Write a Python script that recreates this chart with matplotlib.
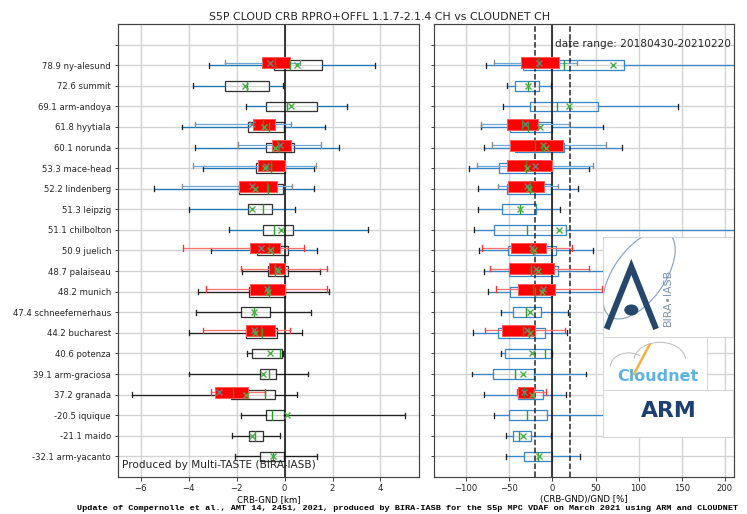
import matplotlib
matplotlib.use('Agg')
import matplotlib.pyplot as plt
from matplotlib.patches import Ellipse, Circle, Arc
import numpy as np

stations = ['78.9 ny-alesund', '72.6 summit', '69.1 arm-andoya', '61.8 hyytiala',
            '60.1 norunda', '53.3 mace-head', '52.2 lindenberg', '51.3 leipzig',
            '51.1 chilbolton', '50.9 juelich', '48.7 palaiseau', '48.2 munich',
            '47.4 schneefernerhaus', '44.2 bucharest', '40.6 potenza',
            '39.1 arm-graciosa', '37.2 granada', '-20.5 iquique', '-21.1 maido',
            '-32.1 arm-yacanto']

# CRB-GND [km], all collocations
km_lo   = [-3.14, -3.82, -1.60, -4.27, -3.75, -3.42, -5.43, -4.00, -2.34, -3.07,
           -1.77, -3.61, -3.70, -3.97, -1.58, -3.97, -6.37, -1.81, -2.19, -2.08]
km_q1   = [-0.45, -2.50, -0.78, -1.51, -0.78, -1.19, -1.92, -1.51, -0.89, -1.16,
           -0.71, -1.48, -1.83, -1.62, -1.37, -1.03, -2.23, -0.78, -1.48, -1.03]
km_med  = [0.22, -1.55, 0.10, -0.67, -0.25, -0.56, -0.71, -0.89, -0.45, -0.50,
           -0.39, -0.67, -1.27, -0.96, -0.20, -0.63, -0.81, -0.52, -1.23, -0.47]
km_q3   = [1.58, -0.66, 1.34, -0.01, 0.38, 0.00, -0.06, -0.53, 0.35, 0.14,
           0.14, 0.01, -0.60, -0.32, -0.11, -0.35, -0.38, -0.04, -0.89, -0.01]
km_hi   = [3.77, -0.08, 2.61, 1.69, 2.27, 1.21, 1.21, 0.45, 3.50, 1.35,
           1.48, 1.84, 1.10, 0.71, -0.05, 0.96, 0.53, 5.03, -0.20, 1.34]
km_mean = [0.50, -1.65, 0.28, -0.85, -0.39, -0.80, -1.23, -1.37, -0.17, -0.60,
           -0.28, -0.70, -1.27, -1.23, -0.60, -0.92, -1.63, 0.11, -1.37, -0.50]

# CRB-GND [km], subset (red boxes); nan = no subset
nan = np.nan
kms_lo   = [-2.50, nan, nan, -3.75, -1.95, -3.82, -4.27, nan, nan, -4.23,
            -1.81, -3.29, nan, -3.39, nan, nan, -3.07, nan, nan, nan]
kms_q1   = [-0.93, nan, nan, -1.30, -0.54, -1.12, -1.92, nan, nan, -1.44,
            -0.67, -1.46, nan, -1.62, nan, nan, -2.90, nan, nan, nan]
kms_med  = [-0.38, nan, nan, -0.91, -0.28, -0.55, -0.75, nan, nan, -0.67,
            -0.40, -0.70, nan, -1.00, nan, nan, -2.16, nan, nan, nan]
kms_q3   = [0.21, nan, nan, -0.40, 0.25, 0.00, -0.32, nan, nan, -0.20,
            0.03, 0.01, nan, -0.40, nan, nan, -1.53, nan, nan, nan]
kms_hi   = [0.66, nan, nan, 0.27, 1.51, 1.31, 0.31, nan, nan, 0.79,
            1.77, 1.77, nan, 0.22, nan, nan, -0.81, nan, nan, nan]
kms_mean = [-0.61, nan, nan, -1.35, -0.20, -0.78, -1.37, nan, nan, -0.99,
            -0.30, -0.72, nan, -1.27, nan, nan, -2.72, nan, nan, nan]

# (CRB-GND)/GND [%], all collocations
pc_lo   = [-76.9, -52.5, -56.8, -82.3, -78.8, -97.0, -86.6, -85.8, -90.8, -84.6,
           -78.8, -75.0, -59.5, -91.6, -59.5, -93.5, -78.8, -67.6, -53.7, -53.7]
pc_q1   = [-33.6, -42.9, -25.5, -49.5, -42.9, -61.8, -52.9, -58.7, -67.2, -51.8,
           -50.6, -48.7, -45.2, -63.0, -54.9, -69.2, -39.4, -50.6, -46.0, -32.5]
pc_med  = [13.5, -28.6, 5.0, -28.6, -11.6, -30.9, -25.5, -37.9, -29.8, -22.4,
           -24.7, -20.1, -30.9, -27.0, -8.9, -42.9, -22.4, -29.8, -38.3, -17.0]
pc_q3   = [83.5, -15.1, 53.3, -0.4, 13.1, -0.4, -1.2, -18.5, 15.8, 4.6,
           6.2, 0.0, -12.8, -8.5, -1.2, -21.6, -10.4, -6.2, -24.3, -0.4]
pc_hi   = [240.0, -1.2, 145.7, 59.1, 81.1, 42.1, 29.8, 9.3, 230.0, 46.8,
           75.0, 70.0, 17.8, 16.6, -0.5, 39.0, 15.8, 160.0, -1.9, 32.5]
pc_mean = [70.0, -27.8, 19.7, -14.3, -7.7, -29.0, -27.0, -37.9, 7.3, -21.5,
           -16.6, -12.0, -25.9, -26.3, -24.0, -34.4, -23.6, 70.0, -34.0, -15.8]

# (CRB-GND)/GND [%], subset (red boxes)
pcs_lo   = [-68.0, nan, nan, -82.7, -69.6, -86.9, -62.6, nan, nan, -81.9,
            -71.9, -64.9, nan, -78.4, nan, nan, -40.5, nan, nan, nan]
pcs_q1   = [-35.9, nan, nan, -52.2, -49.1, -52.9, -51.4, nan, nan, -47.5,
            -50.6, -40.2, nan, -58.3, nan, nan, -39.8, nan, nan, nan]
pcs_med  = [-16.2, nan, nan, -34.8, -19.7, -30.9, -26.5, nan, nan, -25.1,
            -24.7, -22.4, nan, -34.0, nan, nan, -33.5, nan, nan, nan]
pcs_q3   = [8.1, nan, nan, -17.0, 12.8, -0.4, -10.0, nan, nan, -7.7,
            1.5, 2.7, nan, -20.1, nan, nan, -21.3, nan, nan, nan]
pcs_hi   = [28.2, nan, nan, 19.3, 61.8, 46.8, 6.6, nan, nan, 22.4,
            42.9, 58.0, nan, 14.7, nan, nan, -7.3, nan, nan, nan]
pcs_mean = [-15.5, nan, nan, -32.0, -11.2, -20.5, -29.0, nan, nan, -24.0,
            -18.9, -11.2, nan, -29.8, nan, nan, -32.8, nan, nan, nan]

# stations whose subset whiskers are drawn red
red_whisk = ['50.9 juelich', '48.7 palaiseau', '48.2 munich', '44.2 bucharest', '37.2 granada']
n_blue_left = 10   # first stations with blue whiskers in left panel

TXT = '#262626'
plt.rcParams['font.family'] = 'DejaVu Sans'
plt.rcParams['text.color'] = TXT
plt.rcParams['xtick.color'] = TXT
plt.rcParams['ytick.color'] = TXT

fig = plt.figure(figsize=(747/72., 514/72.), dpi=72, facecolor='w')
ax1 = fig.add_axes([0.158, 0.072, 0.4033, 0.8813])
ax2 = fig.add_axes([0.5814, 0.072, 0.4016, 0.8813])


def stat(lo, q1, med, q3, hi, mean):
    return dict(whislo=lo, q1=q1, med=med, q3=q3, whishi=hi, mean=mean, fliers=[])


def draw(ax, main, sub, boxcol, left):
    for i in range(len(stations)):
        pos = i + 1
        if left:
            wcol = 'C0' if i < n_blue_left else '#222222'
        else:
            wcol = '#3a87c8'
        ax.bxp([stat(*[a[i] for a in main])], positions=[pos], widths=0.47,
               orientation='horizontal', showfliers=False, showmeans=True,
               patch_artist=True, manage_ticks=False,
               boxprops=dict(facecolor='none', edgecolor=boxcol, linewidth=1.3, zorder=2),
               whiskerprops=dict(color=wcol, linewidth=1.3, zorder=2),
               capprops=dict(color='#222222', linewidth=1.3, zorder=2),
               medianprops=dict(color='#2ca02c', linewidth=1.4, zorder=5),
               meanprops=dict(marker='x', markeredgecolor='#4caf4c', markersize=6,
                              markeredgewidth=1.4, zorder=5))
        if np.isnan(sub[0][i]):
            continue
        if stations[i] in red_whisk:
            swcol, sccol = '#ff7070', '#ff3030'
        else:
            swcol, sccol = '#6fa8d6', '#8a8a8a'
        ax.bxp([stat(*[a[i] for a in sub])], positions=[pos - 0.12], widths=0.53,
               orientation='horizontal', showfliers=False, showmeans=True,
               patch_artist=True, manage_ticks=False,
               boxprops=dict(facecolor='red', edgecolor='#ff5a5a', linewidth=1.0, zorder=3),
               whiskerprops=dict(color=swcol, linewidth=1.3, zorder=3),
               capprops=dict(color=sccol, linewidth=1.3, zorder=3),
               medianprops=dict(color='#4f7f2c', linewidth=1.4, zorder=4),
               meanprops=dict(marker='x', markeredgecolor='#7a7a7a', markersize=6,
                              markeredgewidth=1.4, zorder=4))


draw(ax1, [km_lo, km_q1, km_med, km_q3, km_hi, km_mean],
     [kms_lo, kms_q1, kms_med, kms_q3, kms_hi, kms_mean], '#333333', True)
draw(ax2, [pc_lo, pc_q1, pc_med, pc_q3, pc_hi, pc_mean],
     [pcs_lo, pcs_q1, pcs_med, pcs_q3, pcs_hi, pcs_mean], '#3a87c8', False)

ax1.axvline(0, color='#111111', linewidth=1.6, zorder=2.5)
ax2.axvline(0, color='#111111', linewidth=1.6, zorder=2.5)
ax2.axvline(-20, color='#222222', linewidth=1.5, linestyle='--', zorder=2.5)
ax2.axvline(20, color='#222222', linewidth=1.5, linestyle='--', zorder=2.5)

for ax in (ax1, ax2):
    ax.set_ylim(len(stations) + 1, -1)
    ax.set_yticks(range(0, len(stations) + 1))
    ax.grid(True, color='#d3d3d3', linewidth=1.4, zorder=0)
    ax.set_axisbelow(True)
    ax.tick_params(labelsize=8.5, length=3.5, width=1, color='#444444')
    for s in ax.spines.values():
        s.set_color('#444444')
        s.set_linewidth(1.2)

ax1.set_yticklabels([''] + stations)
ax2.set_yticklabels([])
ax1.set_xlim(-6.95, 5.62)
ax1.set_xticks([-6, -4, -2, 0, 2, 4])
ax2.set_xlim(-137, 211)
ax2.set_xticks([-100, -50, 0, 50, 100, 150, 200])
ax1.set_xlabel('CRB-GND [km]', fontsize=8.5, labelpad=2)
ax2.set_xlabel('(CRB-GND)/GND [%]', fontsize=8.5, labelpad=2)

ax1.text(0.012, 0.015, 'Produced by Multi-TASTE (BIRA-IASB)', transform=ax1.transAxes,
         fontsize=10.5, ha='left', va='bottom', zorder=6)
ax2.text(0.99, 0.955, 'date range: 20180430-20210220', transform=ax2.transAxes,
         fontsize=10.5, ha='right', va='center', zorder=12)

fig.text(380/747., 1 - 17/514., 'S5P CLOUD CRB RPRO+OFFL 1.1.7-2.1.4 CH vs CLOUDNET CH',
         ha='center', va='center', fontsize=11)
fig.text(77/747., 1 - 508/514., 'Update of Compernolle et al., AMT 14, 2451, 2021, produced by '
         'BIRA-IASB for the S5p MPC VDAF on March 2021 using ARM and CLOUDNET',
         ha='left', va='center', fontsize=8.45, family='Liberation Mono', weight='bold',
         color='black')


def logo_axes(rect):
    lax = fig.add_axes(rect, zorder=10)
    lax.set_xlim(0, 1)
    lax.set_ylim(0, 1)
    lax.set_xticks([])
    lax.set_yticks([])
    lax.set_facecolor('white')
    for s in lax.spines.values():
        s.set_color('#cccccc')
        s.set_linewidth(0.8)
    return lax


# BIRA-IASB logo
lb = logo_axes([0.8068, 0.3444, 0.1744, 0.1946])
lb.add_patch(Ellipse((0.28, 0.62), 0.42, 0.95, angle=-25, fill=False,
                     edgecolor='#8aa4c4', linewidth=1.2))
lb.plot([0.03, 0.22, 0.41], [0.08, 0.70, 0.08], color='#24476b', linewidth=6,
        solid_joinstyle='miter', solid_capstyle='butt')
lb.add_patch(Circle((0.22, 0.27), 0.05, color='#24476b'))
lb.text(0.50, 0.40, 'BIRA\u2022IASB', rotation=90, ha='center', va='center',
        fontsize=11, color='#7d95b5')

# Cloudnet logo
lc = logo_axes([0.8068, 0.2412, 0.1392, 0.1031])
lc.add_patch(Arc((0.55, 0.55), 0.5, 0.7, theta1=10, theta2=170, color='#bbbbbb', linewidth=1))
lc.add_patch(Arc((0.25, 0.45), 0.35, 0.5, theta1=60, theta2=180, color='#bbbbbb', linewidth=1))
lc.plot([0.30, 0.45], [0.30, 0.85], color='#f4b040', linewidth=2.5)
lc.text(0.53, 0.26, 'Cloudnet', ha='center', va='center', fontsize=16,
        weight='bold', color='#5ab4e0')

# ARM logo
la = logo_axes([0.8068, 0.1498, 0.1744, 0.0914])
la.text(0.505, 0.55, 'ARM', ha='center', va='center', fontsize=22,
        weight='bold', color='#1d3f72')
la.add_patch(Arc((0.5, -0.6), 1.0, 1.1, theta1=15, theta2=165, color='#8cc3ea', linewidth=2))

fig.savefig('out.png', dpi=72, facecolor='w')
